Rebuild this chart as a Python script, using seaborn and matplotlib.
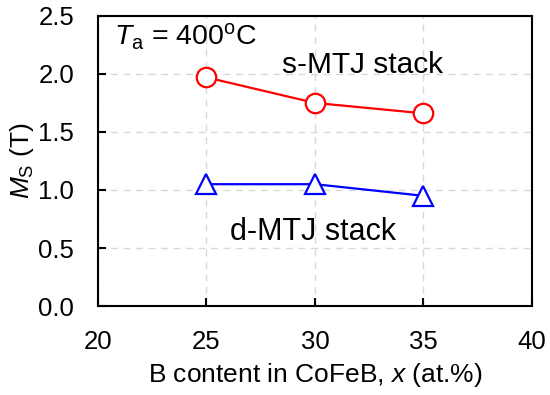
import matplotlib
matplotlib.use('Agg')
import matplotlib.pyplot as plt
import seaborn as sns
import pandas as pd

# data
b_content = [25, 30, 35]
ms_single = [1.97, 1.75, 1.66]
ms_double = [1.05, 1.05, 0.95]

sns.set_style('ticks')
plt.rcParams['font.family'] = ['Liberation Sans', 'DejaVu Sans']
plt.rcParams['mathtext.fontset'] = 'custom'
plt.rcParams['mathtext.rm'] = 'Liberation Sans'
plt.rcParams['mathtext.it'] = 'Liberation Sans:italic'
plt.rcParams['text.color'] = 'black'
plt.rcParams['axes.labelcolor'] = 'black'
plt.rcParams['xtick.color'] = 'black'
plt.rcParams['ytick.color'] = 'black'

df_s = pd.DataFrame({'x': b_content, 'ms': ms_single})
df_d = pd.DataFrame({'x': b_content, 'ms': ms_double})

fig, ax = plt.subplots(figsize=(5.5, 3.95), dpi=100)
fig.subplots_adjust(left=0.178, right=0.967, top=0.96, bottom=0.225)

sns.lineplot(data=df_s, x='x', y='ms', ax=ax, color='red', lw=1.6,
             marker='o', markersize=14, markerfacecolor='white',
             markeredgecolor='red', markeredgewidth=1.6)
sns.lineplot(data=df_d, x='x', y='ms', ax=ax, color='blue', lw=1.6,
             marker='^', markersize=14, markerfacecolor='white',
             markeredgecolor='blue', markeredgewidth=1.6)

ax.set_xlim(20, 40)
ax.set_ylim(0, 2.5)
ax.set_xticks([20, 25, 30, 35, 40])
ax.set_yticks([0, 0.5, 1.0, 1.5, 2.0, 2.5])
ax.set_yticklabels(['0.0', '0.5', '1.0', '1.5', '2.0', '2.5'])
ax.grid(True, ls=(0, (5, 4)), color='#d9d9d9', lw=1)
ax.set_axisbelow(True)
ax.tick_params(direction='in', length=6, width=1.5, labelsize=18.5)
ax.tick_params(axis='x', pad=17)
ax.tick_params(axis='y', pad=17)
for s in ax.spines.values():
    s.set_visible(True)
    s.set_color('black')
    s.set_linewidth(1.5)

ax.set_xlabel(r'B content in CoFeB, $x$ (at.%)', fontsize=19, labelpad=5)
ax.set_ylabel(r'$M_{\rm S}$ (T)', fontsize=19, labelpad=2)

ax.text(20.75, 2.25, r'$T_{\rm a}$ = 400$^{\rm o}$C', fontsize=20.5, va='baseline')
ax.text(28.48, 2.01, 's-MTJ stack', fontsize=21.5, va='baseline')
ax.text(26.08, 0.57, 'd-MTJ stack', fontsize=22, va='baseline')

plt.savefig('out.png', dpi=100)
